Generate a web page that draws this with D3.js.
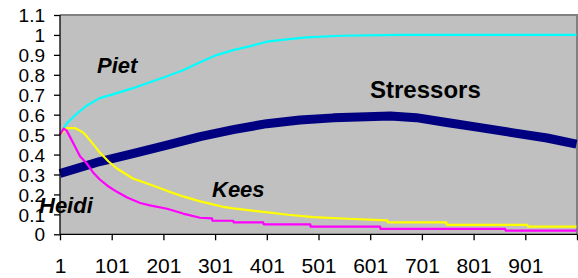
<!DOCTYPE html>
<html>
<head>
<meta charset="utf-8">
<script src="https://cdn.jsdelivr.net/npm/d3@7"></script>
<style>
  html, body { margin: 0; padding: 0; background: #fff; }
  svg { display: block; font-family: "Liberation Sans", Arial, sans-serif; }
</style>
</head>
<body>
<svg id="chart" width="578" height="278"></svg>
<script>
// ---- data ----
const xTickValues = [1, 101, 201, 301, 401, 501, 601, 701, 801, 901, 1001];
const xTickLabels = ["1", "101", "201", "301", "401", "501", "601", "701", "801", "901", ""];
const yTickValues = [0, 0.1, 0.2, 0.3, 0.4, 0.5, 0.6, 0.7, 0.8, 0.9, 1, 1.1];
const yTickLabels = ["0", "0.1", "0.2", "0.3", "0.4", "0.5", "0.6", "0.7", "0.8", "0.9", "1", "1.1"];

const stressorsX = [1, 78, 142, 208, 272, 336, 401, 465, 530, 594, 640, 690, 749, 814, 878, 943, 1000];
const stressorsY = [0.305, 0.365, 0.405, 0.447, 0.49, 0.525, 0.555, 0.573, 0.584, 0.59, 0.593, 0.585, 0.561, 0.535, 0.509, 0.483, 0.452];

const pietX = [1, 14, 34, 53, 78, 111, 142, 175, 208, 239, 272, 304, 336, 369, 401, 440, 478, 543, 659, 1000];
const pietY = [0.5, 0.556, 0.606, 0.646, 0.683, 0.708, 0.733, 0.763, 0.793, 0.823, 0.863, 0.899, 0.924, 0.944, 0.966, 0.978, 0.988, 0.996, 1.0, 1.0];

const keesX = [1, 14, 30, 46, 53, 66, 78, 95, 111, 142, 175, 208, 239, 272, 297, 316, 336, 369, 403, 442, 491, 556, 634, 635, 748, 749, 905, 906, 1000];
const keesY = [0.5, 0.533, 0.533, 0.51, 0.49, 0.45, 0.41, 0.365, 0.33, 0.28, 0.25, 0.218, 0.19, 0.165, 0.15, 0.138, 0.13, 0.12, 0.11, 0.098, 0.086, 0.078, 0.07, 0.06, 0.06, 0.047, 0.047, 0.038, 0.038];

const heidiX = [1, 8, 14, 26, 34, 40, 53, 65, 78, 92, 111, 131, 156, 175, 208, 239, 272, 295, 296, 336, 337, 394, 395, 485, 486, 620, 621, 862, 863, 1000];
const heidiY = [0.5, 0.53, 0.52, 0.46, 0.42, 0.39, 0.355, 0.31, 0.275, 0.245, 0.213, 0.185, 0.157, 0.145, 0.128, 0.104, 0.083, 0.08, 0.068, 0.068, 0.06, 0.06, 0.05, 0.05, 0.038, 0.038, 0.027, 0.027, 0.018, 0.018];

const seriesNames = ["Stressors", "Piet", "Kees", "Heidi"];
const seriesColors = ["#000080", "#00FFFF", "#FFFF00", "#FF00FF"];

// ---- layout ----
const svg = d3.select("#chart");
const plotLeft = 60, plotRight = 577, plotTop = 15, plotBottom = 234.3;

const x = d3.scaleLinear().domain([1, 1001]).range([plotLeft, plotRight]);
const y = d3.scaleLinear().domain([0, 1.1]).range([plotBottom, plotTop]);

// plot area
svg.append("rect")
  .attr("x", plotLeft).attr("y", plotTop)
  .attr("width", plotRight - plotLeft).attr("height", plotBottom - plotTop)
  .attr("fill", "#C0C0C0");

// top & right border
svg.append("path")
  .attr("d", `M${plotLeft},${plotTop}H${plotRight}V${plotBottom}`)
  .attr("fill", "none").attr("stroke", "#808080").attr("stroke-width", 2);

// series
const line = d3.line().x(d => x(d[0])).y(d => y(d[1]));
const seriesData = [
  d3.zip(stressorsX, stressorsY),
  d3.zip(pietX, pietY),
  d3.zip(keesX, keesY),
  d3.zip(heidiX, heidiY)
];
const widths = [9, 2.2, 2.2, 2.2];
seriesData.forEach((data, i) => {
  svg.append("path")
    .attr("d", line(data))
    .attr("fill", "none")
    .attr("stroke", seriesColors[i])
    .attr("stroke-width", widths[i])
    .attr("stroke-linejoin", "round");
});

// axes
const yAxis = svg.append("g").attr("transform", `translate(${plotLeft},0)`)
  .call(d3.axisLeft(y).tickValues(yTickValues).tickSize(6).tickPadding(15)
    .tickFormat((d, i) => yTickLabels[i]));
const xAxis = svg.append("g").attr("transform", `translate(0,${plotBottom})`)
  .call(d3.axisBottom(x).tickValues(xTickValues).tickSize(6).tickPadding(20)
    .tickFormat((d, i) => xTickLabels[i]));

[yAxis, xAxis].forEach(g => {
  g.select(".domain").attr("stroke", "#000").attr("stroke-width", 1.3);
  g.selectAll(".tick line").attr("stroke", "#000").attr("stroke-width", 1.3);
  g.selectAll("text").attr("fill", "#000").attr("font-family", "Liberation Sans, Arial, sans-serif");
});
yAxis.select(".domain").attr("d", `M0,${plotTop}V${plotBottom}`);
xAxis.select(".domain").attr("d", `M${plotLeft},0H${plotRight}`);
yAxis.selectAll("text").attr("font-size", 19).attr("x", -15).attr("dy", "0.35em");
xAxis.selectAll("text").attr("font-size", 21).attr("y", 39).attr("dy", 0);

// series annotations
const labels = [
  { t: seriesNames[0], x: 370, y: 98, size: 24, italic: false },
  { t: seriesNames[1], x: 97, y: 72.5, size: 22, italic: true },
  { t: seriesNames[2], x: 212, y: 196.5, size: 22, italic: true },
  { t: seriesNames[3], x: 39, y: 213, size: 22, italic: true }
];
labels.forEach(l => {
  svg.append("text")
    .attr("x", l.x).attr("y", l.y)
    .attr("font-size", l.size)
    .attr("font-weight", "bold")
    .attr("font-style", l.italic ? "italic" : "normal")
    .attr("fill", "#000")
    .text(l.t);
});
</script>
</body>
</html>
